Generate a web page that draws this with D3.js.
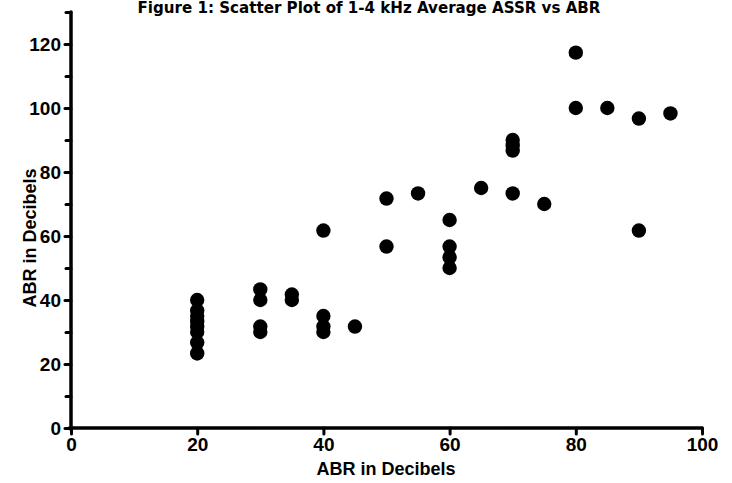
<!DOCTYPE html>
<html>
<head>
<meta charset="utf-8">
<script src="https://cdn.jsdelivr.net/npm/d3@7"></script>
<style>
  html, body { margin: 0; padding: 0; background: #fff; }
  svg { display: block; }
</style>
</head>
<body>
<svg id="chart" width="732" height="483"></svg>
<script>
const titleText = "Figure 1: Scatter  Plot of 1-4 kHz Average ASSR vs ABR";
const xLabel = "ABR in Decibels";
const yLabel = "ABR in Decibels";
const xTicks = [0, 20, 40, 60, 80, 100];
const yTicks = [0, 20, 40, 60, 80, 100, 120];
const yMinorTicks = [10, 30, 50, 70, 90, 110, 130];

const pointX = [
  20, 20, 20, 20, 20, 20, 20, 20,
  30, 30, 30, 30,
  35, 35,
  40, 40, 40, 40,
  45,
  50, 50,
  55,
  60, 60, 60, 60,
  65,
  70, 70, 70, 70,
  75,
  80, 80,
  85,
  90, 90,
  95
];
const pointY = [
  40, 36.7, 35, 33.3, 31.7, 30, 26.7, 23.3,
  43.3, 40, 31.7, 30,
  41.7, 40,
  61.7, 35, 31.7, 30,
  31.7,
  71.7, 56.7,
  73.3,
  65, 56.7, 53.3, 50,
  75,
  90, 88.3, 86.7, 73.3,
  70,
  117.3, 100,
  100,
  96.7, 61.7,
  98.3
];

const svg = d3.select("#chart");
const x = d3.scaleLinear().domain([0, 100]).range([71, 702]);
const y = d3.scaleLinear().domain([0, 130]).range([428, 12]);

const axisFont = "'Liberation Sans', Arial, sans-serif";

// Title
svg.append("text")
  .attr("x", 369).attr("y", 13)
  .attr("text-anchor", "middle")
  .attr("font-family", "'Liberation Sans Narrow', 'DejaVu Sans Condensed', sans-serif")
  .attr("font-weight", "bold")
  .attr("font-size", 15)
  .attr("textLength", 463)
  .attr("lengthAdjust", "spacingAndGlyphs")
  .text(titleText);

// Y axis
const yAxis = d3.axisLeft(y).tickValues(yTicks).tickSize(6).tickPadding(4).tickFormat(d3.format("d"));
const gy = svg.append("g").attr("transform", `translate(${x(0)},0)`).call(yAxis);
gy.select(".domain").attr("stroke", "#000").attr("stroke-width", 3.5).attr("stroke-linecap", "round")
  .attr("d", `M0,${y(130)}V${y(0) + 1.5}`);
gy.selectAll(".tick line").attr("stroke", "#000").attr("stroke-width", 3).attr("stroke-linecap", "round");
gy.selectAll(".tick text").attr("font-family", axisFont).attr("font-weight", "bold")
  .attr("font-size", 19).attr("fill", "#000").attr("dy", "0.35em");

const yMinor = d3.axisLeft(y).tickValues(yMinorTicks).tickSize(5).tickFormat("");
const gym = svg.append("g").attr("transform", `translate(${x(0)},0)`).call(yMinor);
gym.select(".domain").remove();
gym.selectAll(".tick line").attr("stroke", "#000").attr("stroke-width", 3).attr("stroke-linecap", "round");

// X axis
const xAxis = d3.axisBottom(x).tickValues(xTicks).tickSize(6).tickPadding(4).tickFormat(d3.format("d"));
const gx = svg.append("g").attr("transform", `translate(0,${y(0)})`).call(xAxis);
gx.select(".domain").attr("stroke", "#000").attr("stroke-width", 3.5).attr("stroke-linecap", "round")
  .attr("d", `M${x(0) - 1.5},0H${x(100)}`);
gx.selectAll(".tick line").attr("stroke", "#000").attr("stroke-width", 3).attr("stroke-linecap", "round");
gx.selectAll(".tick text").attr("font-family", axisFont).attr("font-weight", "bold")
  .attr("font-size", 19).attr("fill", "#000");

// Axis labels
svg.append("text")
  .attr("x", 386).attr("y", 475)
  .attr("text-anchor", "middle")
  .attr("font-family", axisFont).attr("font-weight", "bold").attr("font-size", 18)
  .text(xLabel);

svg.append("text")
  .attr("transform", `translate(36,238) rotate(-90)`)
  .attr("text-anchor", "middle")
  .attr("font-family", axisFont).attr("font-weight", "bold").attr("font-size", 18)
  .text(yLabel);

// Points
svg.append("g").selectAll("circle")
  .data(pointX.map((d, i) => ({ x: d, y: pointY[i] })))
  .join("circle")
  .attr("cx", d => x(d.x))
  .attr("cy", d => y(d.y))
  .attr("r", 7.2)
  .attr("fill", "#000");
</script>
</body>
</html>
